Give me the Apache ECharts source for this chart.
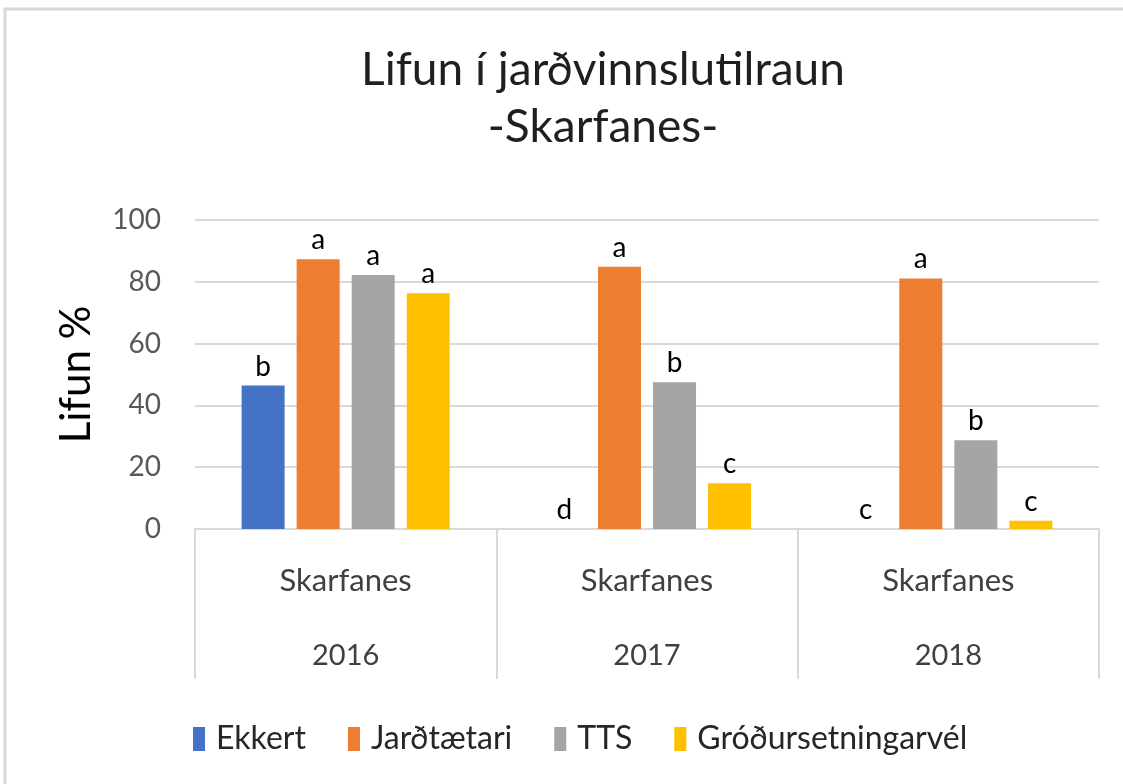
<!DOCTYPE html>
<html>
<head>
<meta charset="utf-8">
<script src="https://cdn.jsdelivr.net/npm/echarts@6/dist/echarts.min.js"></script>
<style>
  html, body { margin: 0; padding: 0; background: #fff; }
  #chart_box { width: 1123px; height: 784px; }
</style>
</head>
<body>
<div id="chart_box"></div>
<script>
// gögn lesin af myndinni
const sites = ['Skarfanes', 'Skarfanes', 'Skarfanes'];
const years = ['2016', '2017', '2018'];
const seriesNames = ['Ekkert', 'Jarðtætari', 'TTS', 'Gróðursetningarvél'];
const ekkert = [46.4, 0, 0];
const jardtaetari = [87.3, 84.9, 81.1];
const tts = [82.2, 47.5, 28.7];
const grodur = [76.3, 14.8, 2.7];
// bókstafir fyrir marktækan mun
const ekkertLetters = ['b', 'd', 'c'];
const jardLetters = ['a', 'a', 'a'];
const ttsLetters = ['a', 'b', 'b'];
const grodurLetters = ['a', 'c', 'c'];
const yTicks = [0, 20, 40, 60, 80, 100];

const fontFam = 'Lato, "Liberation Sans", sans-serif';
const seriesColor = ['#4472C4', '#ED7D31', '#A5A5A5', '#FFC000'];
const values = [ekkert, jardtaetari, tts, grodur];
const letters = [ekkertLetters, jardLetters, ttsLetters, grodurLetters];

let seriesList = [];
for (let i = 0; i < seriesNames.length; i++) {
  seriesList.push({
    name: seriesNames[i],
    type: 'bar',
    barWidth: 43,
    barGap: '28%',
    itemStyle: { color: seriesColor[i] },
    label: {
      show: true,
      position: 'top',
      distance: 5,
      color: '#000',
      fontSize: 28,
      fontFamily: fontFam,
      formatter: p => letters[i][p.dataIndex]
    },
    data: values[i]
  });
}

const myEcharts = echarts.init(document.getElementById('chart_box'));
myEcharts.setOption({
  animation: false,
  textStyle: { fontFamily: fontFam },
  graphic: [{
    type: 'rect',
    shape: { x: 5, y: 9, width: 1130, height: 800 },
    style: { fill: 'none', stroke: '#d9d9d9', lineWidth: 3 }
  }],
  title: {
    text: 'Lifun í jarðvinnslutilraun\n-Skarfanes-',
    left: 598,
    textAlign: 'center',
    top: 37,
    textStyle: {
      fontSize: 46,
      fontWeight: 'normal',
      color: '#1f1f1f',
      lineHeight: 57,
      fontFamily: fontFam
    }
  },
  legend: {
    left: 188,
    top: 718,
    icon: 'rect',
    itemWidth: 12,
    itemHeight: 24,
    itemGap: 42,
    textStyle: { fontSize: 32, color: '#262626', fontFamily: fontFam, padding: [0, 0, 0, 6] },
    data: seriesNames
  },
  grid: { left: 195, right: 24, top: 220, bottom: 255 },
  xAxis: {
    type: 'category',
    data: years,
    axisLine: { lineStyle: { color: '#d9d9d9', width: 2 } },
    axisTick: { show: true, length: 150, lineStyle: { color: '#d9d9d9', width: 2 } },
    axisLabel: {
      margin: 14,
      color: '#404040',
      formatter: (v, idx) => '{s|' + sites[idx] + '}\n{y|' + v + '}',
      rich: {
        s: { fontSize: 31, lineHeight: 75, color: '#404040', fontFamily: fontFam },
        y: { fontSize: 29, lineHeight: 75, color: '#404040', fontFamily: fontFam }
      }
    }
  },
  yAxis: {
    type: 'value',
    min: yTicks[0],
    max: yTicks[yTicks.length - 1],
    interval: 20,
    name: 'Lifun %',
    nameLocation: 'middle',
    nameGap: 98,
    nameTextStyle: { fontSize: 42, color: '#000', fontFamily: fontFam },
    axisLine: { show: false },
    axisTick: { show: false },
    axisLabel: { fontSize: 28, color: '#595959', margin: 34 },
    splitLine: { lineStyle: { color: '#d9d9d9', width: 2 } }
  },
  series: seriesList
});
</script>
</body>
</html>
